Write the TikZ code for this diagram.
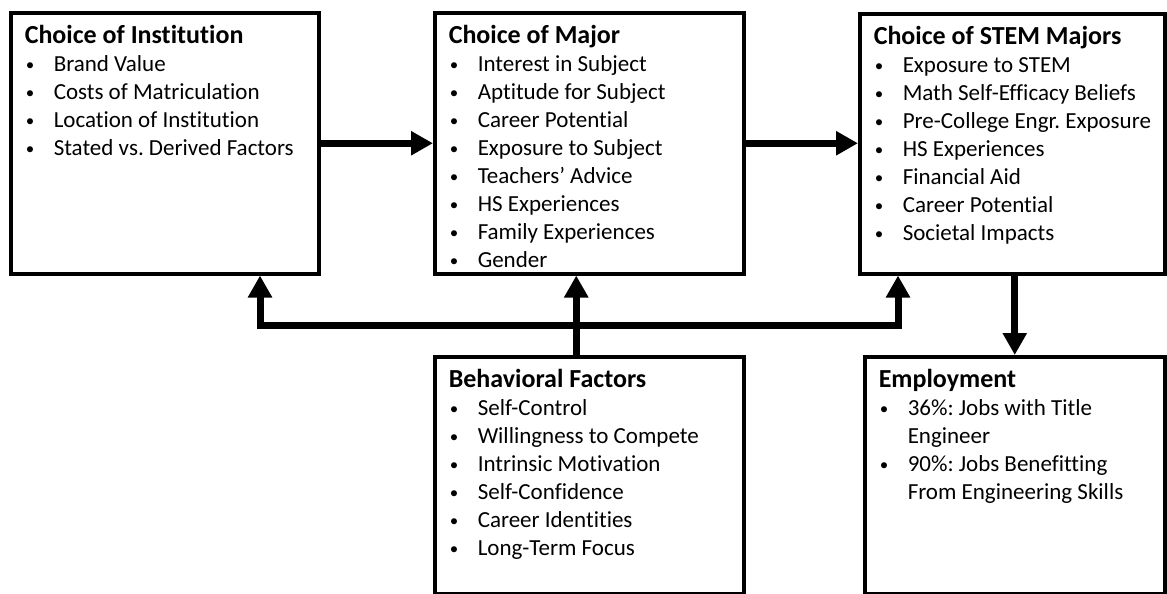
\documentclass[tikz,border=0pt]{standalone}
\usepackage{fontspec}
\setmainfont{Carlito}[Ligatures=NoCommon]
\usepackage{tikz}
\usetikzlibrary{arrows.meta}
\frenchspacing

\newcommand{\itm}[1]{\par\noindent\hangindent=14.5pt\hangafter=1
  \hspace*{0.5pt}\makebox[14pt][l]{\raisebox{0.6pt}{\fontsize{8.5}{8.5}\selectfont\textbullet}}#1}
\newcommand{\panelbody}[4]{\parbox[t][#2][t]{#1}{\raggedright
  {\fontsize{13}{15}\selectfont\textbf{#3}}#4}}

\begin{document}
\begin{tikzpicture}[x=0.5pt, y=-0.5pt,
  panel/.style = {shape=rectangle, draw, line width=1.75pt,
    anchor=north west, inner xsep=7pt, inner ysep=6.5pt,
    font=\fontsize{11.5}{14}\selectfont},
  flow/.style = {line width=3.5pt, -{Triangle[length=11pt,width=11.5pt]}},
  twoway/.style = {line width=3.5pt,
    {Triangle[length=11pt,width=11.5pt]}-{Triangle[length=11pt,width=11.5pt]}}]
  \useasboundingbox (0,0) rectangle (1167,594);

  \node[panel] (inst) at (9,11) {\panelbody{140pt}{117.5pt}{Choice of Institution}{
    \itm{Brand Value}
    \itm{Costs of Matriculation}
    \itm{Location of Institution}
    \itm{Stated vs. Derived Factors}}};
  \node[panel] (major) at (433,11) {\panelbody{140.5pt}{117.5pt}{Choice of Major}{
    \itm{Interest in Subject}
    \itm{Aptitude for Subject}
    \itm{Career Potential}
    \itm{Exposure to Subject}
    \itm{Teachers’ Advice}
    \itm{HS Experiences}
    \itm{Family Experiences}
    \itm{Gender}}};
  \node[panel] (stem) at (858,12) {\panelbody{138.5pt}{117pt}{Choice of STEM Majors}{
    \itm{Exposure to STEM}
    \itm{Math Self-Efficacy Beliefs}
    \itm{\mbox{Pre-College Engr. Exposure}}
    \itm{HS Experiences}
    \itm{Financial Aid}
    \itm{Career Potential}
    \itm{Societal Impacts}}};
  \node[panel] (behav) at (433,355) {\panelbody{140.5pt}{105.5pt}{Behavioral Factors}{
    \itm{Self-Control}
    \itm{Willingness to Compete}
    \itm{Intrinsic Motivation}
    \itm{Self-Confidence}
    \itm{Career Identities}
    \itm{Long-Term Focus}}};
  \node[panel] (emp) at (863,355) {\panelbody{136pt}{105.5pt}{Employment}{
    \itm{36\%: Jobs with Title\newline Engineer}
    \itm{90\%: Jobs Benefitting\newline From Engineering Skills}}};

  % corners of the feedback line
  \coordinate (fbl) at (260,325);
  \coordinate (fbr) at (898,325);

  \draw[flow] (inst.east) -- (major.west |- inst.east);
  \draw[flow] (major.east) -- (stem.west |- major.east);
  \draw[flow] (emp.north |- stem.south) -- (emp.north);
  \draw[flow] ([xshift=-6.5pt]behav.north) -- ([xshift=-6.5pt]major.south);
  \draw[twoway] (inst.south -| fbl) -- (fbl) -- (fbr) -- (stem.south -| fbr);
\end{tikzpicture}
\end{document}
